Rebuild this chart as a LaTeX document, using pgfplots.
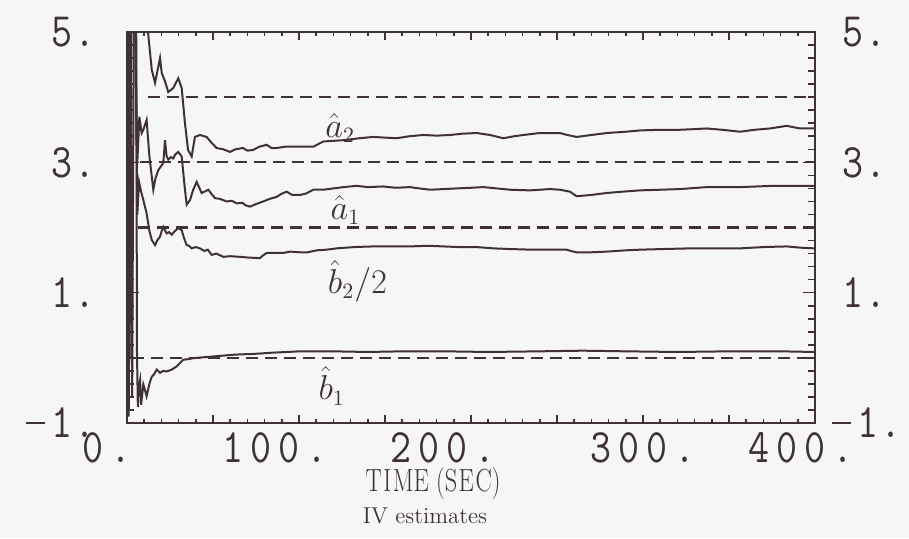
\documentclass[border=0pt]{standalone}
\usepackage{pgfplots}
\pgfplotsset{compat=1.18}
\usepackage{graphicx}
\definecolor{ink}{RGB}{62,50,55}
\definecolor{paper}{RGB}{246,246,244}
\newcommand\TL{\fontsize{24}{24}\selectfont\ttfamily}
\newcommand\TS[1]{\scalebox{0.85}[1.0]{\TL #1}}
\newcommand\LB[1]{\makebox[37pt][r]{\TS{#1}}}
\newcommand\K{\kern4pt}
\newcommand\NEG{\rule[7pt]{11pt}{0.8pt}\kern4pt}
\begin{document}
\begin{tikzpicture}
\fill[paper] (-63.5pt,-57.5pt) rectangle (391pt,211.5pt);
\useasboundingbox (-63.5pt,-57.5pt) rectangle (391pt,211.5pt);
\begin{axis}[at={(0,0)}, anchor=south west, scale only axis,
  width=344pt, height=195.5pt,
  xmin=0, xmax=400, ymin=-1, ymax=5,
  xtick={0,50,...,400},
  xticklabels={\TS{0\K.}\kern20pt, , \TS{1\K0\K0\K.}\kern24pt, , \TS{2\K0\K0\K.}\kern28pt, , \TS{3\K0\K0\K.}, , \TS{4\K0\K0\K.}\kern14pt},
  minor x tick num=4,
  ytick=\empty,
  major tick length=4pt, minor tick length=2pt,
  xticklabel style={text=ink, inner sep=0pt, anchor=north},
  xticklabel shift=4.5pt,
  axis line style={ink, line width=1.2pt},
  every tick/.style={ink, line width=0.8pt},
]
\addplot[ink, line width=1.1pt, dash pattern=on 6pt off 3.5pt] coordinates {(12,4) (400,4)};
\addplot[ink, line width=1.1pt, dash pattern=on 6pt off 3.5pt] coordinates {(7.5,3) (400,3)};
\addplot[ink, line width=1.1pt, dash pattern=on 6pt off 3.5pt] coordinates {(6.5,2) (400,2)};
\addplot[ink, line width=1.1pt, dash pattern=on 6pt off 3.5pt] coordinates {(3,0) (400,0)};
% a2 hat
\addplot[ink, line width=1pt] coordinates {
(0.5,0) (1.2,5.8) (9,5.8) (12.2,5.0) (14.4,4.42) (16.3,4.22) (19.2,4.6) (20.2,4.37) (22,4.25) (24,4.08) (26.9,4.14) (29.8,4.29) (31.8,4.14) (33.7,3.60) (35.5,3.19) (37.6,3.09) (39.5,3.39) (42.4,3.42) (46.3,3.39) (49.2,3.30) (52.1,3.22) (56,3.20) (59.9,3.16) (63,3.20) (67.4,3.22) (70,3.18) (73.3,3.19) (77,3.24) (81.2,3.27) (84,3.22) (87,3.22) (92,3.24) (96.7,3.24) (102.5,3.24) (108.3,3.24) (114.1,3.32) (120,3.33) (125.8,3.34) (135,3.37) (143.2,3.39) (150,3.38) (156.8,3.37) (164,3.40) (172.3,3.42) (180,3.41) (187.8,3.42) (195,3.44) (203.3,3.45) (211,3.42) (218.8,3.37) (225,3.40) (230.4,3.42) (240,3.45) (251.7,3.45) (256,3.42) (261.4,3.39) (270,3.42) (278.9,3.45) (290,3.47) (298.3,3.49) (310,3.50) (321.5,3.50) (330,3.51) (337,3.52) (346,3.50) (356.4,3.47) (365,3.50) (373.8,3.52) (383.5,3.56) (391.3,3.52) (400,3.52)};
% a1 hat
\addplot[ink, line width=1pt] coordinates {
(1,0) (2,5.8) (4.5,5.8) (6,3.0) (7.2,3.7) (8.5,3.45) (9.5,3.5) (11.4,3.65) (13,3.1) (15.3,2.58) (16.5,2.75) (18.2,2.88) (20,2.95) (21.1,2.99) (22.1,3.34) (23,3.1) (24,3.04) (25.5,3.08) (26.9,3.06) (28,3.12) (29.8,3.16) (31.8,3.09) (33.7,2.58) (34.7,2.35) (36.6,2.42) (38.5,2.58) (40.5,2.70) (43.4,2.53) (45,2.55) (47.3,2.58) (49,2.52) (51.2,2.45) (54,2.44) (58,2.40) (61,2.41) (63.8,2.37) (67,2.38) (69,2.34) (71.5,2.32) (75,2.36) (79.2,2.40) (83,2.44) (87,2.47) (90,2.52) (92.8,2.55) (96,2.50) (100.6,2.50) (104,2.52) (108.3,2.58) (114,2.58) (120,2.60) (126,2.62) (133.5,2.64) (140,2.62) (149,2.63) (156,2.61) (164.5,2.62) (170,2.60) (176.2,2.58) (184,2.59) (191.7,2.60) (200,2.61) (207.2,2.62) (215,2.60) (222.7,2.58) (234.3,2.57) (245.9,2.59) (251.7,2.58) (257.6,2.55) (261.4,2.48) (270,2.50) (278.9,2.53) (288,2.55) (298.3,2.57) (310,2.58) (321.5,2.59) (337,2.62) (356.4,2.62) (375.8,2.64) (400,2.64)};
% b2 hat / 2
\addplot[ink, line width=1pt] coordinates {
(1.5,0) (2.6,5.8) (4.5,5.8) (6,2.2) (7,2.7) (8.2,2.55) (9.5,2.42) (11.4,2.22) (13,1.95) (14.4,1.81) (16.3,1.73) (17.5,1.80) (19.2,1.86) (20.2,1.95) (21.1,2.01) (23,1.91) (24.5,1.93) (26,1.89) (28,1.95) (29.8,1.99) (31.8,1.96) (33,1.85) (34.7,1.73) (36,1.72) (37.6,1.68) (40,1.70) (42.4,1.68) (45,1.64) (47,1.66) (49.2,1.58) (52,1.60) (56,1.55) (60,1.56) (65.7,1.55) (70,1.54) (77.3,1.53) (79,1.57) (81.2,1.61) (86,1.61) (90.9,1.61) (95,1.63) (100.6,1.62) (105,1.62) (110.3,1.65) (116,1.66) (121.9,1.68) (132,1.70) (143.2,1.71) (154,1.71) (164.5,1.71) (175,1.72) (183.9,1.71) (193,1.70) (203.3,1.70) (213,1.68) (222.7,1.67) (235,1.66) (245.9,1.66) (255.6,1.66) (258,1.64) (261.4,1.62) (270,1.62) (278.9,1.63) (290,1.65) (298.3,1.66) (312,1.67) (327.3,1.68) (342,1.68) (356.4,1.68) (370,1.70) (383.5,1.71) (392,1.69) (400,1.68)};
% b1 hat
\addplot[ink, line width=1pt] coordinates {
(0,0) (1,-0.9) (2,4.9) (3,-0.6) (4,5.5) (5.3,5.8) (5.8,0.1) (6.3,-0.75) (6.8,-0.45) (7.6,-0.34) (8.2,-0.72) (9.5,-0.41) (10.5,-0.50) (11.4,-0.59) (13,-0.40) (14.4,-0.29) (15.8,-0.25) (17.3,-0.18) (19.2,-0.23) (21,-0.20) (23,-0.21) (26,-0.18) (28.9,-0.13) (32.7,-0.03) (35.5,-0.02) (38.5,-0.005) (45,0.01) (54,0.03) (63,0.05) (73.4,0.06) (85,0.08) (100.6,0.10) (120,0.10) (140,0.09) (160,0.10) (185,0.10) (210,0.09) (240,0.10) (265,0.11) (290,0.10) (320,0.09) (350,0.10) (380,0.10) (400,0.09)};
\node[text=ink, font=\fontsize{16}{16}\selectfont] at (axis cs:124,3.53) {$\hat{a}_2$};
\node[text=ink, font=\fontsize{16}{16}\selectfont] at (axis cs:127,2.27) {$\hat{a}_1$};
\node[text=ink, font=\fontsize{16}{16}\selectfont] at (axis cs:134,1.18) {$\hat{b}_2/2$};
\node[text=ink, font=\fontsize{16}{16}\selectfont] at (axis cs:119,-0.43) {$\hat{b}_1$};
\end{axis}
% y ticks both sides, labels right
\begin{axis}[at={(0,0)}, anchor=south west, scale only axis,
  width=344pt, height=195.5pt,
  xmin=0, xmax=400, ymin=-1, ymax=5,
  hide x axis, axis line style={draw=none},
  ytick={-1,1,3,5}, minor y tick num=9,
  ytick pos=both, yticklabel pos=right,
  yticklabels={\kern-5pt\TS{\NEG1\kern1pt.}, \TS{1\kern1pt.}, \TS{3\kern1pt.}, \TS{5\kern1pt.}},
  yticklabel style={text=ink, inner sep=0pt, anchor=west},
  yticklabel shift=13.5pt,
  major tick length=6pt, minor tick length=3.5pt,
  every tick/.style={ink, line width=0.8pt},
]
\end{axis}
% labels left
\begin{axis}[at={(0,0)}, anchor=south west, scale only axis,
  width=344pt, height=195.5pt,
  xmin=0, xmax=400, ymin=-1, ymax=5,
  hide x axis, axis line style={draw=none},
  ytick={-1,1,3,5}, ytick pos=left, yticklabel pos=left,
  yticklabels={\LB{\NEG1\kern1pt.}, \LB{1\kern1pt.}, \LB{3\kern1pt.}, \LB{5\kern1pt.}},
  yticklabel style={text=ink, inner sep=0pt, anchor=east},
  yticklabel shift=15.5pt,
  major tick length=0pt, every tick/.style={draw=none},
]
\end{axis}
\node[anchor=base, text=ink, inner sep=0pt] at (153pt,-34pt) {\scalebox{0.76}[1]{\fontsize{16}{16}\selectfont T\kern1pt I\kern1pt ME (S\kern1pt E\kern1pt C)}};
\node[anchor=base, text=ink, inner sep=0pt] at (149pt,-50pt) {\fontsize{11.5}{11.5}\selectfont IV estimates};
\end{tikzpicture}
\end{document}
